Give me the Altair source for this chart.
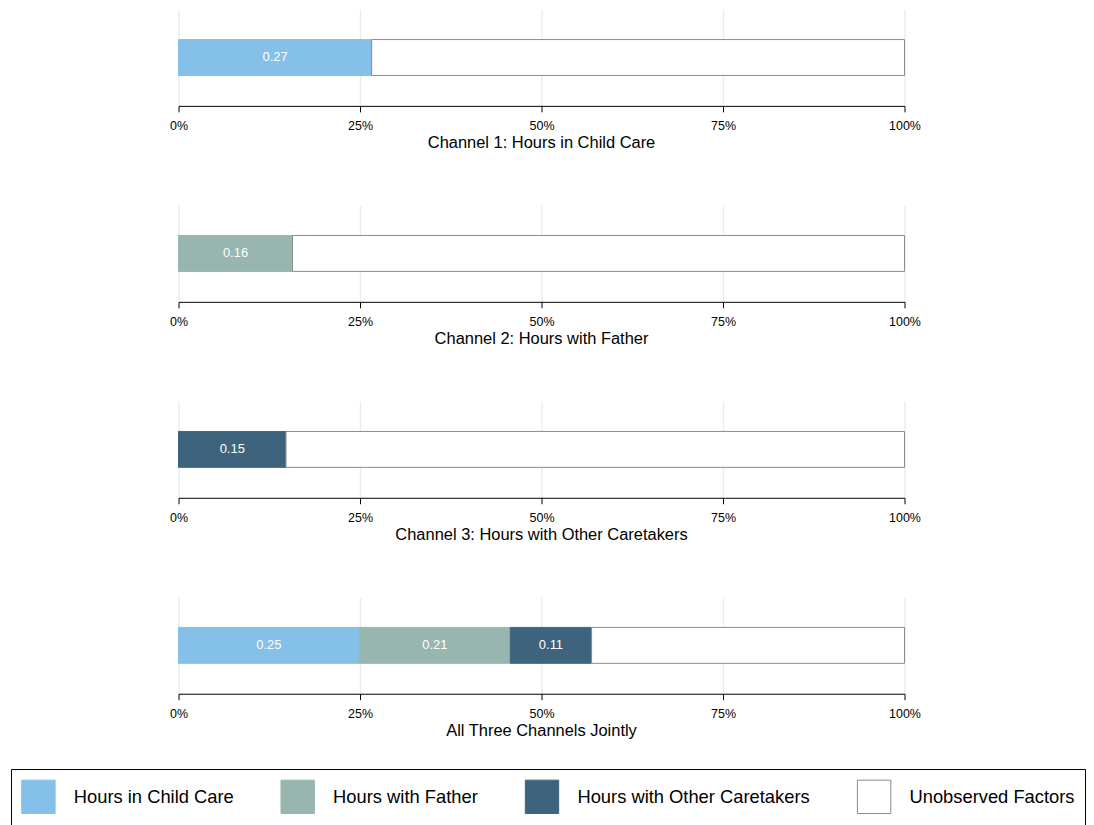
import altair as alt
import pandas as pd

panels = [
    "Channel 1: Hours in Child Care",
    "Channel 2: Hours with Father",
    "Channel 3: Hours with Other Caretakers",
    "All Three Channels Jointly",
]
categories = [
    "Hours in Child Care",
    "Hours with Father",
    "Hours with Other Caretakers",
    "Unobserved Factors",
]
fill_colors = ["#85C0E9", "#98B6B0", "#3E647D", "#FFFFFF"]
stroke_colors = ["#85C0E9", "#98B6B0", "#3E647D", "#8C8C8C"]

child_care = [0.266, 0.0, 0.0, 0.249]
father = [0.0, 0.157, 0.0, 0.208]
other_caretakers = [0.0, 0.0, 0.148, 0.112]
tick_values = [0, 0.25, 0.5, 0.75, 1.0]

rows = []
for i, p in enumerate(panels):
    vals = [child_care[i], father[i], other_caretakers[i]]
    vals.append(1.0 - sum(vals))
    for j, (c, v) in enumerate(zip(categories, vals)):
        if v > 0:
            rows.append({"panel": p, "category": c, "cat_idx": j, "value": v})
df = pd.DataFrame(rows)

FONT = "Liberation Sans"

legend = alt.Legend(
    orient="none",
    legendX=-168,
    legendY=762,
    direction="horizontal",
    title=None,
    symbolType="square",
    symbolSize=1120,
    symbolStrokeWidth=1,
    symbolOpacity=1,
    labelFontSize=18.4,
    labelFont=FONT,
    labelColor="black",
    labelOffset=18,
    columnPadding=44,
    padding=10,
    strokeColor="black",
    labelLimit=400,
)

charts = []
for k, p in enumerate(panels):
    base = (
        alt.Chart(df)
        .transform_filter(alt.datum.panel == p)
        .transform_stack(
            stack="value",
            groupby=["panel"],
            sort=[alt.SortField("cat_idx", order="ascending")],
            as_=["x0", "x1"],
        )
        .transform_calculate(mid="(datum.x0 + datum.x1) / 2")
    )
    xaxis = alt.Axis(
        format="%",
        values=tick_values,
        grid=True,
        gridColor="#E6EEF3",
        gridWidth=1.5,
        domainColor="black",
        tickColor="black",
        tickSize=6,
        labelFontSize=12.5,
        labelFont=FONT,
        labelColor="black",
        labelPadding=8,
        labelFlush=False,
        labelAlign="center",
        title=None,
    )
    bars = base.mark_bar(size=36, strokeWidth=1).encode(
        x=alt.X("x0:Q", scale=alt.Scale(domain=[0, 1], nice=False), axis=xaxis),
        x2="x1:Q",
        y=alt.Y("panel:N", axis=None),
        color=alt.Color(
            "category:N",
            scale=alt.Scale(domain=categories, range=fill_colors),
            legend=legend,
        ),
        stroke=alt.Stroke(
            "category:N",
            scale=alt.Scale(domain=categories, range=stroke_colors),
            legend=legend,
        ),
    )
    labels = (
        base.transform_filter(alt.datum.category != "Unobserved Factors")
        .mark_text(color="white", fontSize=13, font=FONT)
        .encode(
            x="mid:Q",
            y=alt.Y("panel:N", axis=None),
            text=alt.Text("value:Q", format=".2f"),
        )
    )
    layer = alt.layer(bars, labels).properties(
        width=728,
        height=97,
        title=alt.TitleParams(
            p,
            orient="bottom",
            fontSize=16.5,
            fontWeight="normal",
            font=FONT,
            color="black",
            offset=3,
        ),
    )
    charts.append(layer)

chart = (
    alt.vconcat(*charts, spacing=53.5)
    .resolve_scale(color="shared", stroke="shared")
    .properties(padding={"left": 2, "top": 0, "right": 0, "bottom": 0})
    .configure_view(stroke=None)
)

chart.save("out.html", embed_options={"renderer": "svg", "actions": False})
